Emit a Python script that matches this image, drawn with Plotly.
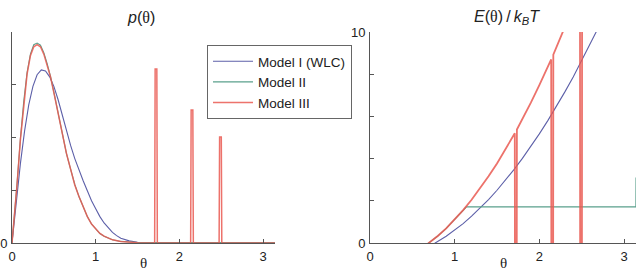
import plotly.graph_objects as go
import math

W, H = 642, 272
PI = math.pi

# ---------- Left panel: p(theta) ----------
theta_p_I = [0, 0.05, 0.1, 0.15, 0.2, 0.25, 0.3, 0.35, 0.4, 0.45, 0.5, 0.55, 0.6, 0.65, 0.7,
             0.75, 0.8, 0.85, 0.9, 0.95, 1.0, 1.05, 1.1, 1.15, 1.2, 1.25, 1.3, 1.4, 1.5, 1.6, 1.8, PI]
p_I = [0, 0.78, 1.5, 2.12, 2.62, 2.97, 3.19, 3.28, 3.26, 3.15, 2.97, 2.72, 2.43, 2.12, 1.85,
       1.6, 1.38, 1.18, 0.99, 0.8, 0.65, 0.5, 0.38, 0.28, 0.2, 0.14, 0.09, 0.04, 0.015, 0.005, 0, 0]

theta_p_II = [0, 0.03, 0.06, 0.1, 0.14, 0.18, 0.22, 0.26, 0.3, 0.34, 0.38, 0.42, 0.46, 0.5, 0.55,
              0.6, 0.65, 0.7, 0.75, 0.8, 0.85, 0.9, 0.95, 1.0, 1.05, 1.1, 1.15, 1.2, 1.3, 1.4, 1.5, 1.6, PI]
p_II = [0, 0.52, 1.12, 1.97, 2.68, 3.23, 3.58, 3.76, 3.79, 3.75, 3.61, 3.4, 3.16, 2.86, 2.45,
        2.05, 1.7, 1.4, 1.11, 0.88, 0.68, 0.5, 0.36, 0.26, 0.18, 0.13, 0.09, 0.06, 0.03, 0.015, 0.01, 0.01, 0.01]

theta_p_III = [0, 0.03, 0.06, 0.1, 0.14, 0.18, 0.22, 0.26, 0.3, 0.34, 0.38, 0.42, 0.46, 0.5, 0.55,
               0.6, 0.65, 0.7, 0.75, 0.8, 0.85, 0.9, 0.95, 1.0, 1.05, 1.1, 1.15, 1.2, 1.3, 1.4, 1.5, 1.6,
               1.704, 1.71, 1.73, 1.736, 2.134, 2.14, 2.16, 2.166, 2.474, 2.48, 2.5, 2.506, PI]
p_III = [0, 0.5, 1.1, 1.95, 2.65, 3.2, 3.55, 3.72, 3.76, 3.72, 3.58, 3.38, 3.15, 2.85, 2.45,
         2.05, 1.7, 1.4, 1.1, 0.88, 0.68, 0.5, 0.36, 0.26, 0.18, 0.13, 0.09, 0.06, 0.03, 0.012, 0.005, 0.002,
         0, 3.30, 3.30, 0, 0, 2.52, 2.52, 0, 0, 2.01, 2.01, 0, 0]

# ---------- Right panel: E(theta)/kBT ----------
theta_E_I = [0.6, 0.77, 0.9, 1.0, 1.1, 1.2, 1.3, 1.4, 1.5, 1.6, 1.7, 1.8, 1.9, 2.0, 2.1, 2.2,
             2.3, 2.4, 2.5, 2.6, 2.7, 2.8]
E_I = [-0.34, 0, 0.32, 0.61, 0.92, 1.27, 1.65, 2.06, 2.5, 2.97, 3.48, 4.01, 4.58, 5.17, 5.8, 6.46,
       7.15, 7.87, 8.63, 9.41, 10.23, 11.07]

theta_E_II = [0.6, 0.7, 0.8, 0.9, 1.0, 1.1, 1.14, 3.14, PI]
E_II = [-0.29, 0, 0.33, 0.69, 1.1, 1.56, 1.71, 1.71, 3.1]

theta_E_III = [0.6, 0.7, 0.8, 0.9, 1.0, 1.1, 1.2, 1.3, 1.4, 1.5, 1.6, 1.7, 1.71, 1.712, 1.733, 1.735,
               1.8, 1.9, 2.0, 2.1, 2.14, 2.142, 2.163, 2.165, 2.2, 2.3, 2.4, 2.48, 2.482, 2.503, 2.505, 2.6]
E_III = [-0.29, 0, 0.33, 0.69, 1.1, 1.56, 2.05, 2.58, 3.16, 3.77, 4.43, 5.13, 5.2, -1, -1, 5.38,
         5.87, 6.65, 7.48, 8.34, 8.7, -1, -1, 8.93, 9.25, 10.2, 11.18, 12.0, -1, -1, 12.27, 13.3]

series_names = ["Model I (WLC)", "Model II", "Model III"]
colors = ["#5c5fa8", "#5aa08c", "#ea5a52"]

x_tickvals = [0, 1, 2, 3]
x_ticktext = ["0", "1", "2", "3"]
yL_tickvals = [0, 1, 2, 3, 4]
yL_ticktext = ["0", " ", " ", " ", " "]
yR_tickvals = [0, 2, 4, 6, 8, 10]
yR_ticktext = ["0", " ", " ", " ", " ", "10"]

fig = go.Figure()

# Left panel
fig.add_trace(go.Scatter(x=theta_p_I, y=p_I, mode="lines", name=series_names[0],
                         line=dict(color=colors[0], width=1.1), xaxis="x", yaxis="y"))
fig.add_trace(go.Scatter(x=theta_p_II, y=p_II, mode="lines", name=series_names[1],
                         line=dict(color=colors[1], width=1.1), xaxis="x", yaxis="y"))
fig.add_trace(go.Scatter(x=theta_p_III, y=p_III, mode="lines", name=series_names[2],
                         line=dict(color=colors[2], width=1.5), opacity=0.85, xaxis="x", yaxis="y"))
# Right panel
fig.add_trace(go.Scatter(x=theta_E_I, y=E_I, mode="lines", showlegend=False,
                         line=dict(color=colors[0], width=1.1), xaxis="x2", yaxis="y2"))
fig.add_trace(go.Scatter(x=theta_E_II, y=E_II, mode="lines", showlegend=False,
                         line=dict(color=colors[1], width=1.1), xaxis="x2", yaxis="y2"))
fig.add_trace(go.Scatter(x=theta_E_III, y=E_III, mode="lines", showlegend=False,
                         line=dict(color=colors[2], width=1.8), opacity=0.85, xaxis="x2", yaxis="y2"))

ydom = [1 - 243 / H, 1 - 32 / H]
axis_common = dict(showline=True, linecolor="#555555", linewidth=1, ticks="inside", ticklen=4,
                   tickcolor="#555555", showgrid=False, zeroline=False, automargin=False,
                   tickfont=dict(family="Liberation Sans", size=13, color="#222222"))

fig.update_layout(
    width=W, height=H, margin=dict(l=0, r=0, t=0, b=0, pad=0, autoexpand=False),
    paper_bgcolor="white", plot_bgcolor="white",
    xaxis=dict(domain=[12 / W, 275 / W], range=[0, PI], tickvals=x_tickvals, ticktext=x_ticktext,
               anchor="y", ticklabelstandoff=1, **axis_common),
    yaxis=dict(domain=ydom, range=[0, 4], tickvals=yL_tickvals, ticktext=yL_ticktext,
               anchor="x", ticklabelstandoff=1, **axis_common),
    xaxis2=dict(domain=[370 / W, 636 / W], range=[0, PI], tickvals=x_tickvals, ticktext=x_ticktext,
                anchor="y2", ticklabelstandoff=1, **axis_common),
    yaxis2=dict(domain=ydom, range=[0, 10], tickvals=yR_tickvals, ticktext=yR_ticktext,
                anchor="x2", ticklabelstandoff=1, **axis_common),
    legend=dict(x=207 / W, y=1 - 45 / H, xanchor="left", yanchor="top",
                bgcolor="white", bordercolor="#666666", borderwidth=1,
                font=dict(family="Liberation Sans", size=13.5, color="#222222"),
                tracegroupgap=0, itemwidth=40),
    showlegend=True,
)

serif = "font-family:'Liberation Serif'"
thin = "\u2009"
fig.add_annotation(x=141 / W, y=1 - 17 / H, xref="paper", yref="paper", showarrow=False,
                   text=f"<i>p</i>(<span style=\"{serif}\">θ</span>)",
                   font=dict(family="Liberation Sans", size=16, color="#222222"),
                   xanchor="center", yanchor="middle")
fig.add_annotation(x=507 / W, y=1 - 17 / H, xref="paper", yref="paper", showarrow=False,
                   text=f"<i>E</i>(<span style=\"{serif}\">θ</span>){thin}/{thin}<i>k</i><sub><i>B</i></sub><i>T</i>",
                   font=dict(family="Liberation Sans", size=16, color="#222222"),
                   xanchor="center", yanchor="middle")
for xc in (143.5, 503):
    fig.add_annotation(x=xc / W, y=0, xref="paper", yref="paper", showarrow=False,
                       text="θ", font=dict(family="Liberation Serif", size=15, color="#222222"),
                       xanchor="center", yanchor="bottom", height=16, valign="middle", borderpad=0)

fig.write_html("out.html")
